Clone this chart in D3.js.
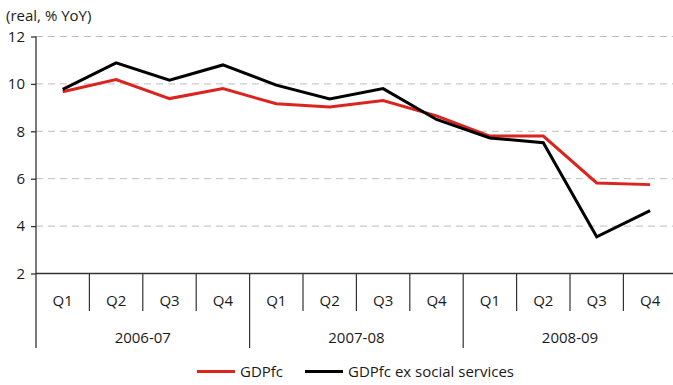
<!DOCTYPE html>
<html>
<head>
<meta charset="utf-8">
<script src="https://cdn.jsdelivr.net/npm/d3@7"></script>
<style>
  html, body { margin: 0; padding: 0; background: #fff; }
  svg { display: block; }
  text { font-family: "Open Sans", "Noto Sans", sans-serif; fill: #1a1a1a; }
</style>
</head>
<body>
<svg id="chart" width="673" height="385"></svg>
<script>
const years = ["2006-07", "2007-08", "2008-09"];
const quarters = ["Q1", "Q2", "Q3", "Q4"];
const gdpfc = [9.67, 10.18, 9.38, 9.8, 9.16, 9.03, 9.3, 8.65, 7.8, 7.8, 5.82, 5.75];
const gdpfcEx = [9.77, 10.89, 10.16, 10.8, 9.95, 9.36, 9.8, 8.5, 7.72, 7.52, 3.55, 4.65];
const yTicks = [2, 4, 6, 8, 10, 12];
const seriesNames = ["GDPfc", "GDPfc ex social services"];
const seriesColors = ["#dc241f", "#000000"];
const yLabel = "(real, % YoY)";

const svg = d3.select("#chart");
const mLeft = 36, mRight = 676.8, mTop = 36.5, mBottom = 273.5;
const fs = "15px";

const cats = [];
years.forEach(yr => quarters.forEach(q => cats.push(yr + "|" + q)));

const x = d3.scaleBand().domain(cats).range([mLeft, mRight]).padding(0);
const y = d3.scaleLinear().domain([2, 12]).range([mBottom, mTop]);

// gridlines
svg.append("g").selectAll("line")
  .data(yTicks.filter(t => t > 2))
  .join("line")
  .attr("x1", mLeft).attr("x2", 673)
  .attr("y1", d => y(d)).attr("y2", d => y(d))
  .attr("stroke", "#bdbdbd").attr("stroke-width", 1)
  .attr("stroke-dasharray", "7,5");

// y axis
const yAxis = d3.axisLeft(y).tickValues(yTicks).tickSize(5).tickPadding(6).tickFormat(d3.format("d"));
const gy = svg.append("g").attr("transform", `translate(${mLeft},0)`).call(yAxis);
gy.select(".domain").remove();
gy.selectAll(".tick line").attr("stroke", "#333").attr("stroke-width", 1.3);
gy.selectAll(".tick text").style("font-size", fs).attr("fill", "#1a1a1a")
  .style("font-family", '"Open Sans", sans-serif');

// y axis vertical line (extends down as first year divider)
svg.append("line").attr("x1", mLeft).attr("x2", mLeft).attr("y1", mTop).attr("y2", 348)
  .attr("stroke", "#333").attr("stroke-width", 1.3);

// x axis line
svg.append("line").attr("x1", mLeft).attr("x2", 673).attr("y1", mBottom).attr("y2", mBottom)
  .attr("stroke", "#333").attr("stroke-width", 1.3);

// quarter dividers & labels
const bw = x.bandwidth();
svg.append("g").selectAll("line")
  .data(cats.slice(1))
  .join("line")
  .attr("x1", d => x(d)).attr("x2", d => x(d))
  .attr("y1", mBottom).attr("y2", d => d.endsWith("Q1") ? 348 : 311)
  .attr("stroke", "#333").attr("stroke-width", 1.2);

svg.append("g").selectAll("text")
  .data(cats)
  .join("text")
  .attr("x", d => x(d) + bw / 2)
  .attr("y", 306)
  .attr("text-anchor", "middle")
  .style("font-size", fs)
  .text(d => d.split("|")[1]);

// year labels
svg.append("g").selectAll("text")
  .data(years)
  .join("text")
  .attr("x", d => (x(d + "|Q1") + x(d + "|Q4") + bw) / 2)
  .attr("y", 342.5)
  .attr("text-anchor", "middle")
  .style("font-size", fs)
  .text(d => d);

// lines
const line = d3.line().x((d, i) => x(cats[i]) + bw / 2).y(d => y(d));
[gdpfc, gdpfcEx].forEach((s, k) => {
  svg.append("path").datum(s)
    .attr("d", line)
    .attr("fill", "none")
    .attr("stroke", seriesColors[k])
    .attr("stroke-width", 3)
    .attr("stroke-linejoin", "miter");
});

// y label
svg.append("text").attr("x", 6).attr("y", 21).style("font-size", fs).text(yLabel);

// legend
const legendItems = [{x: 197, tx: 240}, {x: 305, tx: 348}];
legendItems.forEach((it, k) => {
  svg.append("line").attr("x1", it.x).attr("x2", it.x + 38).attr("y1", 371.5).attr("y2", 371.5)
    .attr("stroke", seriesColors[k]).attr("stroke-width", 3);
  svg.append("text").attr("x", it.tx).attr("y", 377).style("font-size", fs).text(seriesNames[k]);
});
</script>
</body>
</html>
